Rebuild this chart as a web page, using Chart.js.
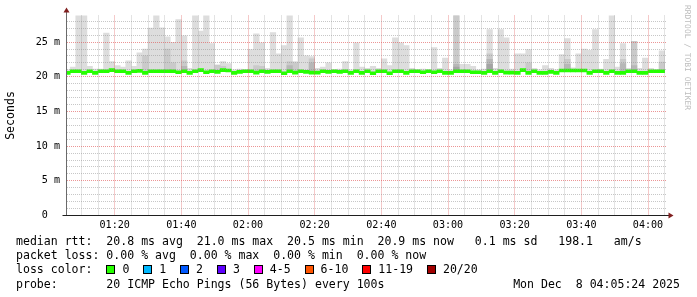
<!DOCTYPE html>
<html>
<head>
<meta charset="utf-8">
<script src="https://cdn.jsdelivr.net/npm/chart.js@4.4.1/dist/chart.umd.min.js"></script>
<style>
  html, body { margin: 0; padding: 0; background: #fff; }
  #wrap { position: relative; width: 697px; height: 297px; overflow: hidden; font-family: 'DejaVu Sans Mono', monospace; }
  #chart { position: absolute; left: 0; top: 0; }
  .row { position: absolute; left: 16px; font-size: 11.56px; line-height: 14.4px; white-space: pre; color: #000; }
  .box { display: inline-block; width: 7px; height: 7px; border: 1px solid #000; margin-right: 7px; vertical-align: -1px; }
  #stamp { position: absolute; right: 17px; top: 276.7px; font-size: 11.56px; line-height: 14.4px; white-space: pre; }
  #mark { position: absolute; left: 683px; top: 5px; writing-mode: vertical-rl; font-size: 7.95px; line-height: 8px; color: #bdbdbd; white-space: pre; }
</style>
</head>
<body>
<div id="wrap">
  <canvas id="chart" width="697" height="297"></canvas>
  <div class="row" style="top:233.5px">median rtt:  20.8 ms avg  21.0 ms max  20.5 ms min  20.9 ms now   0.1 ms sd   198.1   am/s</div>
  <div class="row" style="top:247.9px">packet loss: 0.00 % avg  0.00 % max  0.00 % min  0.00 % now</div>
  <div class="row" id="lossRow" style="top:262.3px">loss color:  </div>
  <div class="row" style="top:276.7px">probe:       20 ICMP Echo Pings (56 Bytes) every 100s</div>
  <div id="stamp">Mon Dec  8 04:05:24 2025</div>
  <div id="mark">RRDTOOL / TOBI OETIKER</div>
</div>
<script>
// time window, seconds after midnight (01:05:24 .. 04:05:24), one sample per 100 s
const windowStart = 3924;
const windowEnd = 14724;
const firstSampleMid = 3950;
const sampleStep = 100;

// median rtt per sample (ms)
const medianRtt = [
  20.55, 20.8, 20.8, 20.55, 20.8, 20.55, 20.8, 20.8, 20.95, 20.8,
  20.8, 20.55, 20.8, 20.85, 20.55, 20.8, 20.8, 20.8, 20.8, 20.8,
  20.65, 20.8, 20.55, 20.8, 20.95, 20.65, 20.8, 20.7, 20.95, 20.9,
  20.55, 20.7, 20.8, 20.8, 20.6, 20.8, 20.7, 20.8, 20.8, 20.5,
  20.8, 20.6, 20.8, 20.7, 20.6, 20.6, 20.8, 20.7, 20.8, 20.7,
  20.8, 20.55, 20.8, 20.55, 20.8, 20.5, 20.8, 20.8, 20.5, 20.8,
  20.8, 20.55, 20.8, 20.8, 20.65, 20.8, 20.65, 20.8, 20.55, 20.55,
  20.8, 20.8, 20.8, 20.65, 20.65, 20.55, 20.8, 20.55, 20.8, 20.6,
  20.6, 20.55, 20.95, 20.55, 20.8, 20.55, 20.55, 20.7, 20.55, 20.9,
  20.9, 20.9, 20.9, 20.9, 20.55, 20.8, 20.8, 20.55, 20.8, 20.55,
  20.55, 20.8, 20.8, 20.55, 20.55, 20.8, 20.8, 20.8
];

// slowest ping per sample (ms), outer smoke
const pingMax = [
  21.0, 21.4, 29, 29, 21.5, 21.1, 21.1, 26.3, 22.2, 21.6,
  21.4, 22.3, 21.5, 23.45, 24.0, 27.0, 29, 27.05, 25.75, 24.95,
  28.25, 25.9, 21.2, 29, 26.6, 29, 24.8, 21.7, 22.2, 21.9,
  21.0, 21.1, 21.0, 23.9, 26.2, 24.9, 21.2, 26.35, 23.3, 24.5,
  29, 22.2, 25.6, 23.0, 22.9, 21.2, 21.4, 22.0, 21.0, 21.1,
  22.2, 21.0, 24.9, 21.4, 21.2, 21.5, 21.2, 22.6, 21.6, 25.6,
  24.9, 24.5, 21.2, 21.0, 21.1, 21.0, 24.2, 21.2, 22.7, 21.0,
  29, 21.8, 21.8, 21.5, 21.0, 21.1, 26.8, 21.2, 26.8, 25.6,
  21.1, 23.3, 23.3, 23.9, 21.2, 21.0, 21.6, 21.2, 21.0, 23.2,
  25.5, 21.3, 23.3, 24.0, 23.8, 26.8, 21.1, 22.5, 29, 21.4,
  24.8, 21.2, 25.1, 21.2, 22.7, 21.2, 21.0, 23.75
];

// inner smoke (2nd, 3rd, 4th slowest ping), only where it shows above the median
const ping19 = [
  null, null, null, null, null, null, null, null, null, null,
  null, null, null, null, 23.0, null, null, null, 24.0, 22.0,
  null, 22.3, null, null, null, null, null, 21.7, 21.5, null,
  null, null, null, null, 21.6, 21.5, null, null, null, null,
  22.2, 22.0, null, null, 22.6, null, null, null, null, null,
  null, null, null, null, null, null, null, null, null, null,
  null, null, null, null, null, null, null, null, null, null,
  29, null, null, null, null, null, 23.3, null, null, null,
  null, null, null, 22.0, null, null, null, null, null, null,
  22.5, null, null, null, null, null, null, null, null, null,
  22.5, null, 25.1, null, null, null, null, 22.1
];
const ping18 = [
  null, null, null, null, null, null, null, null, null, null,
  null, null, null, null, null, null, null, null, null, null,
  null, 21.5, null, null, null, null, null, null, null, null,
  null, null, null, null, null, null, null, null, null, null,
  21.6, null, null, null, 22.0, null, null, null, null, null,
  null, null, null, null, null, null, null, null, null, null,
  null, null, null, null, null, null, null, null, null, null,
  21.8, null, null, null, null, null, 22.5, null, null, null,
  null, null, null, null, null, null, null, null, null, null,
  21.8, null, null, null, null, null, null, null, null, null,
  21.9, null, 21.6, null, null, null, null, null
];
const ping17 = [
  null, null, null, null, null, null, null, null, null, null,
  null, null, null, null, null, null, null, null, null, null,
  null, null, null, null, null, null, null, null, null, null,
  null, null, null, null, null, null, null, null, null, null,
  null, null, null, null, null, null, null, null, null, null,
  null, null, null, null, null, null, null, null, null, null,
  null, null, null, null, null, null, null, null, null, null,
  21.4, null, null, null, null, null, 21.8, null, null, null,
  null, null, null, null, null, null, null, null, null, null,
  null, null, null, null, null, null, null, null, null, null,
  null, null, null, null, null, null, null, null
];

const yTickValues = [0, 1, 2, 3, 4, 5, 6, 7, 8, 9, 10, 11, 12, 13, 14, 15, 16, 17, 18, 19, 20, 21, 22, 23, 24, 25, 26, 27, 28];
const lossLabels = ['0', '1', '2', '3', '4-5', '6-10', '11-19', '20/20'];
const lossColors = ['#26ff00', '#00b8ff', '#0059ff', '#5e00ff', '#ff00ff', '#ff5500', '#ff0000', '#a10000'];

const mono = 'DejaVu Sans Mono';
const minorGrid = 'rgba(143,143,143,0.5)';
const majorGrid = 'rgba(222,79,79,0.6)';
const bandHalf = 0.216; // green median band is 3px tall

const sampleTime = medianRtt.map((_, i) => firstSampleMid + i * sampleStep);

const xTicks = [];
for (let t = Math.ceil(windowStart / 300) * 300; t <= windowEnd; t += 300) xTicks.push(t);

function hhmm(sec) {
  const h = Math.floor(sec / 3600), m = Math.floor(sec % 3600 / 60);
  return String(h).padStart(2, '0') + ':' + String(m).padStart(2, '0');
}

function smoke(values, color, order) {
  return {
    data: sampleTime.map((t, i) => ({ x: t, y: values[i] == null ? null : [medianRtt[i], values[i]] }))
      .filter(p => p.y),
    backgroundColor: color,
    order: order
  };
}

const datasets = [
  {
    data: sampleTime.map((t, i) => ({ x: t, y: [medianRtt[i] - bandHalf, medianRtt[i] + bandHalf] })),
    backgroundColor: lossColors[0],
    order: 0
  },
  smoke(ping17, '#a4a4a4', 1),
  smoke(ping18, '#b7b7b7', 2),
  smoke(ping19, '#cacaca', 3),
  smoke(pingMax, '#dddddd', 4)
];
datasets.forEach(d => Object.assign(d, {
  grouped: false, barPercentage: 1, categoryPercentage: 1, borderWidth: 0, clip: 0
}));

const axisArrows = {
  id: 'axisArrows',
  afterDraw(chart) {
    const { ctx, chartArea: a } = chart;
    const ax = Math.round(a.left) + 0.5;
    const ay = Math.round(a.bottom - 0.5) + 0.5;
    ctx.save();
    ctx.lineWidth = 1;
    ctx.strokeStyle = '#6a6a6a';
    ctx.beginPath(); ctx.moveTo(ax, a.top); ctx.lineTo(ax, 11); ctx.stroke();
    ctx.strokeStyle = '#1f1f1f';
    ctx.beginPath(); ctx.moveTo(ax - 4, ay); ctx.lineTo(a.right + 4, ay); ctx.stroke();
    ctx.fillStyle = '#801f1f';
    ctx.beginPath();
    ctx.moveTo(ax, 7.5); ctx.lineTo(ax - 3, 12.5); ctx.lineTo(ax + 3, 12.5); ctx.closePath(); ctx.fill();
    ctx.beginPath();
    ctx.moveTo(a.right + 7.5, ay); ctx.lineTo(a.right + 2.5, ay - 3); ctx.lineTo(a.right + 2.5, ay + 3); ctx.closePath(); ctx.fill();
    ctx.restore();
  }
};

new Chart(document.getElementById('chart'), {
  type: 'bar',
  data: { datasets },
  plugins: [axisArrows],
  options: {
    responsive: false,
    animation: false,
    devicePixelRatio: 1,
    layout: { padding: { left: 0, right: 31, top: 15.5, bottom: 0 } },
    plugins: { legend: { display: false }, tooltip: { enabled: false } },
    scales: {
      x: {
        type: 'linear',
        min: windowStart,
        max: windowEnd,
        offset: false,
        afterBuildTicks: s => { s.ticks = xTicks.map(v => ({ value: v })); },
        afterFit: s => { s.height = 81.5; },
        ticks: {
          autoSkip: false, maxRotation: 0, minRotation: 0, padding: 4,
          font: { family: mono, size: 10.1 }, color: '#000',
          callback: v => (v % 1200 === 0 ? hhmm(v) : '')
        },
        grid: {
          z: 1, offset: false, drawTicks: false, lineWidth: 1,
          color: c => (c.tick && c.tick.value % 1200 === 0 ? majorGrid : minorGrid)
        },
        border: { z: 2, color: '#1f1f1f', width: 1, dash: [1, 1] }
      },
      y: {
        min: 0,
        max: 28.83,
        afterBuildTicks: s => { s.ticks = yTickValues.map(v => ({ value: v })); },
        afterFit: s => { s.width = 66; },
        ticks: {
          autoSkip: false, padding: 6,
          font: { family: mono, size: 10.1 }, color: '#000',
          callback: v => (v % 5 === 0 ? (v === 0 ? '0  ' : v + ' m') : '')
        },
        grid: {
          z: 1, drawTicks: false, lineWidth: 1,
          color: c => (c.tick && c.tick.value % 5 === 0 ? majorGrid : minorGrid)
        },
        border: { z: 2, color: '#6a6a6a', width: 1, dash: [1, 1] },
        title: {
          display: true, text: 'Seconds', color: '#000',
          font: { family: mono, size: 11.56 }, padding: { top: 4, bottom: 0 }
        }
      }
    }
  }
});

// loss colour legend
const lossRow = document.getElementById('lossRow');
lossLabels.forEach((label, i) => {
  const box = document.createElement('span');
  box.className = 'box';
  box.style.background = lossColors[i];
  lossRow.appendChild(box);
  lossRow.appendChild(document.createTextNode(label + (i < lossLabels.length - 1 ? '  ' : '')));
});
</script>
</body>
</html>
